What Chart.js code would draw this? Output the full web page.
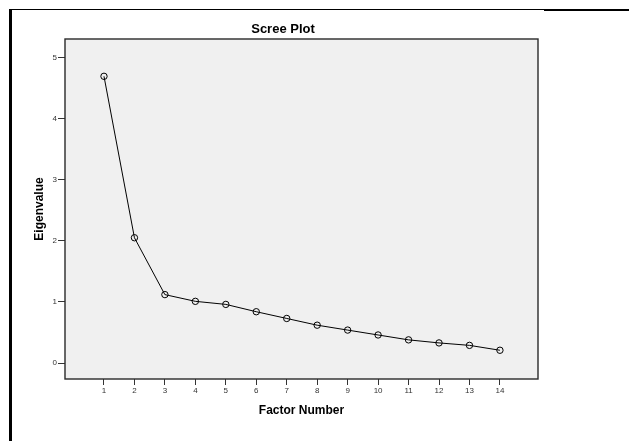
<!DOCTYPE html>
<html>
<head>
<meta charset="utf-8">
<script src="https://cdn.jsdelivr.net/npm/chart.js@4.4.1/dist/chart.umd.min.js"></script>
<style>
  html, body { margin: 0; padding: 0; background: #ffffff; }
  #wrap { width: 629px; height: 441px; position: relative; }
</style>
</head>
<body>
<div id="wrap"><canvas id="c" width="629" height="441"></canvas></div>
<script>
const chartTitle = "Scree Plot";
const xAxisTitle = "Factor Number";
const yAxisTitle = "Eigenvalue";
const factorNumbers = [1, 2, 3, 4, 5, 6, 7, 8, 9, 10, 11, 12, 13, 14];
const eigenvalues = [4.69, 2.05, 1.12, 1.01, 0.96, 0.84, 0.73, 0.62, 0.54, 0.46, 0.38, 0.33, 0.29, 0.21];
const xTickValues = [1, 2, 3, 4, 5, 6, 7, 8, 9, 10, 11, 12, 13, 14];
const yTickValues = [0, 1, 2, 3, 4, 5];

const FONT = '"Liberation Sans", Arial, Helvetica, sans-serif';

const decor = {
  id: 'decor',
  beforeDatasetsDraw(chart) {
    // plot background drawn before grid? handled in beforeDraw
  },
  beforeDraw(chart) {
    const {ctx, chartArea: a} = chart;
    ctx.save();
    ctx.fillStyle = '#ffffff';
    ctx.fillRect(0, 0, chart.width, chart.height);
    ctx.fillStyle = '#f0f0f0';
    ctx.fillRect(a.left, a.top, a.right - a.left, a.bottom - a.top);
    ctx.restore();
  },
  afterDraw(chart) {
    const {ctx, chartArea: a} = chart;
    ctx.save();
    // plot frame
    ctx.strokeStyle = '#2a2a2a';
    ctx.lineWidth = 1.4;
    ctx.strokeRect(a.left, a.top, a.right - a.left, a.bottom - a.top);
    // outer page frame
    ctx.fillStyle = '#000000';
    ctx.fillRect(9, 9, 3, chart.height - 9);
    ctx.fillRect(9, 9, 535, 1);
    ctx.fillRect(544, 9, chart.width - 544, 2);
    // title
    ctx.fillStyle = '#000000';
    ctx.font = 'bold 13px ' + FONT;
    ctx.textAlign = 'center';
    ctx.textBaseline = 'middle';
    ctx.fillText(chartTitle, 283, 29);
    ctx.restore();
  }
};

new Chart(document.getElementById('c'), {
  type: 'scatter',
  data: {
    datasets: [{
      data: factorNumbers.map((f, i) => ({x: f, y: eigenvalues[i]})),
      showLine: true,
      borderColor: '#000000',
      borderWidth: 1,
      pointStyle: 'circle',
      pointRadius: 3.2,
      pointBorderWidth: 1,
      pointBorderColor: '#000000',
      pointBackgroundColor: 'rgba(0,0,0,0)',
      tension: 0
    }]
  },
  options: {
    responsive: false,
    animation: false,
    devicePixelRatio: 1,
    layout: { padding: { top: 39, right: 91, bottom: 0, left: 0 } },
    plugins: {
      legend: { display: false },
      title: { display: false },
      tooltip: { enabled: false }
    },
    scales: {
      x: {
        type: 'linear',
        min: -0.28,
        max: 15.25,
        afterBuildTicks(scale) { scale.ticks = xTickValues.map(v => ({value: v})); },
        afterFit(scale) { scale.height = 62; },
        border: { display: false },
        grid: {
          drawOnChartArea: false,
          drawTicks: true,
          tickLength: 6,
          color: '#333333',
          lineWidth: 1
        },
        ticks: {
          autoSkip: false,
          maxRotation: 0,
          padding: 1,
          color: '#333333',
          font: { family: FONT, size: 8 },
          callback: v => String(v)
        },
        title: {
          display: true,
          text: xAxisTitle,
          color: '#000000',
          font: { family: FONT, size: 12, weight: 'bold', lineHeight: 1.2 },
          padding: { top: 0, bottom: 23 }
        }
      },
      y: {
        type: 'linear',
        min: -0.26,
        max: 5.30,
        afterBuildTicks(scale) { scale.ticks = yTickValues.map(v => ({value: v})); },
        afterFit(scale) { scale.width = 65; },
        border: { display: false },
        grid: {
          drawOnChartArea: false,
          drawTicks: true,
          tickLength: 7,
          color: '#333333',
          lineWidth: 1
        },
        ticks: {
          autoSkip: false,
          padding: 1,
          color: '#333333',
          font: { family: FONT, size: 8 },
          callback: v => String(v)
        },
        title: {
          display: true,
          text: yAxisTitle,
          color: '#000000',
          font: { family: FONT, size: 12, weight: 'bold', lineHeight: 1.2 },
          padding: { top: 32, bottom: 0 }
        }
      }
    }
  },
  plugins: [decor]
});
</script>
</body>
</html>
